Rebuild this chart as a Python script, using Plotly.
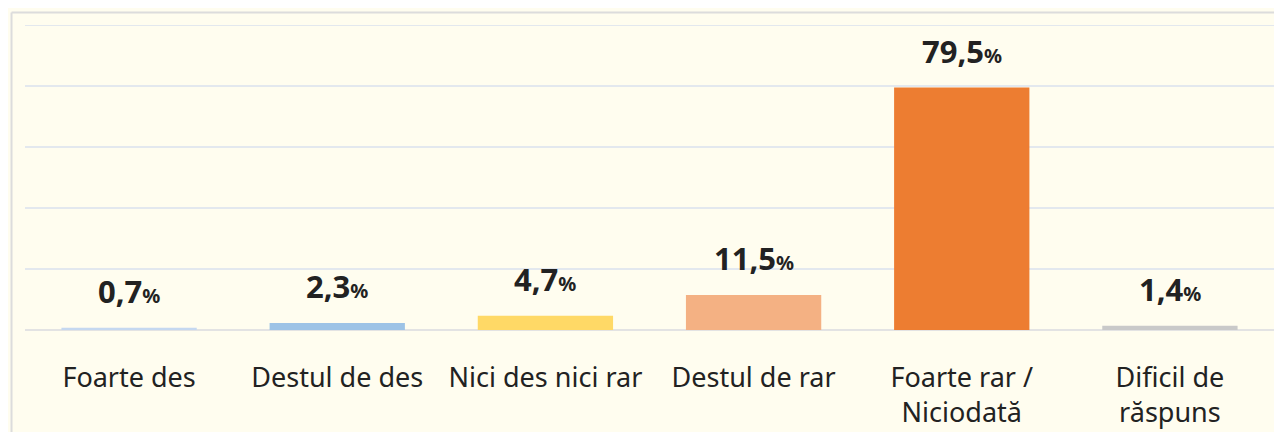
import plotly.graph_objects as go

categories = ["Foarte des", "Destul de des", "Nici des nici rar", "Destul de rar",
              "Foarte rar /<br>Niciodată", "Dificil de<br>răspuns"]
values = [0.7, 2.3, 4.7, 11.5, 79.5, 1.4]
value_labels = ["0,7", "2,3", "4,7", "11,5", "79,5", "1,4"]
colors = ["#C5D8F0", "#9DC3E6", "#FFD966", "#F4B183", "#ED7D31", "#C9C9C9"]

BG = "#FFFDEF"
FONT = "Noto Sans"

fig = go.Figure(go.Bar(
    x=categories, y=values, marker=dict(color=colors, line=dict(width=0)),
    hoverinfo="skip",
))

for c, v, lab in zip(categories, values, value_labels):
    fig.add_annotation(
        x=c, y=v, xref="x", yref="y", yanchor="middle", yshift=37,
        text=f"<b>{lab}</b><b><span style='font-size:20px'>%</span></b>",
        showarrow=False, font=dict(family=FONT, size=31, color="#222222"),
    )

# frame lines (left and top)
fig.add_shape(type="line", xref="paper", yref="paper", x0=-0.0108, x1=1.01,
              y0=1.041, y1=1.041, line=dict(color="#DCDCDC", width=2))
fig.add_shape(type="line", xref="paper", yref="paper", x0=-0.0108, x1=-0.0108,
              y0=1.041, y1=-0.4, line=dict(color="#DCDCDC", width=2))
# top gridline
fig.add_shape(type="line", xref="paper", yref="y", x0=0, x1=1, y0=100, y1=100,
              line=dict(color="#E3E8EE", width=2), layer="below")

fig.update_layout(
    width=1274, height=424,
    margin=dict(l=17, r=8, t=17, b=102),
    paper_bgcolor=BG, plot_bgcolor=BG,
    bargap=0.35, showlegend=False,
    font=dict(family=FONT, color="#222222"),
    xaxis=dict(showgrid=False, showline=False, ticks="", automargin=False,
               tickfont=dict(family=FONT, size=27, color="#222222"),
               ticklabelstandoff=29, fixedrange=True),
    yaxis=dict(range=[0, 100], dtick=20, showticklabels=False, automargin=False,
               gridcolor="#E3E8EE", gridwidth=2, zeroline=True,
               zerolinecolor="#E3E3E3", zerolinewidth=2, fixedrange=True),
)

fig.write_html("out.html")
